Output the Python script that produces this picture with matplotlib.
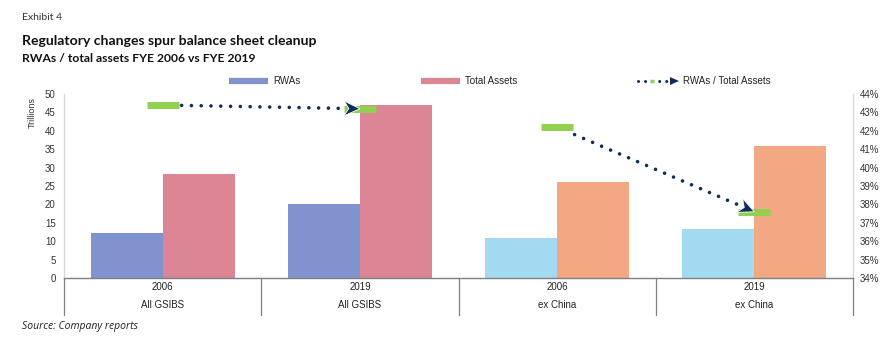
import numpy as np
import matplotlib
matplotlib.use("Agg")
import matplotlib.pyplot as plt
from matplotlib.patches import Polygon
from matplotlib.transforms import IdentityTransform

# ---- data ----
years = ["2006", "2019", "2006", "2019"]
groups = ["All GSIBS", "All GSIBS", "ex China", "ex China"]
rwas = [12.2, 20.1, 10.9, 13.3]            # trillions
total_assets = [28.3, 47.0, 26.1, 35.9]    # trillions
ratio = [43.4, 43.2, 42.2, 37.6]           # RWAs / total assets, %

rwa_colors = ["#8193CF", "#8193CF", "#A4DAF1", "#A4DAF1"]
ta_colors = ["#DC8594", "#DC8594", "#F1A883", "#F1A883"]
navy = "#0E2D5C"
green = "#92D050"
grid_gray = "#D9D9D9"
axis_gray = "#7F7F7F"
title_font = ["Lato", "DejaVu Sans"]

plt.rcParams["font.family"] = ["Liberation Sans", "DejaVu Sans"]

fig = plt.figure(figsize=(8.89, 3.37), dpi=100)
L, R = 64 / 889, 853 / 889
B, T = 1 - 278 / 337, 1 - 94 / 337
ax = fig.add_axes([L, B, R - L, T - B])
ax2 = ax.twinx()

x = np.arange(len(years))
w = 0.365
ax.bar(x - w, rwas, width=w, align="edge", color=rwa_colors, zorder=2)
ax.bar(x, total_assets, width=w, align="edge", color=ta_colors, zorder=2)

ax.set_xlim(-0.5, 3.5)
ax.set_ylim(0, 50)
ax.set_yticks(np.arange(0, 51, 5))
ax2.set_ylim(34, 44)
ax2.set_yticks(np.arange(34, 45, 1))
ax2.set_yticklabels([f"{v}%" for v in range(34, 45)])

for a in (ax, ax2):
    a.tick_params(axis="y", length=0, labelsize=7, colors="#333333")
    for s in a.spines.values():
        s.set_visible(False)
ax.tick_params(axis="y", pad=6)
ax2.tick_params(axis="y", pad=5)
ax.set_xticks([])
ax.set_ylabel("Trillions", fontsize=6.5, color="#333333")
ax.yaxis.set_label_coords(-0.034, 0.897)

# light vertical axis lines
ax.plot([0, 0], [0, 1], transform=ax.transAxes, color=grid_gray, lw=1, clip_on=False)
ax.plot([1, 1], [0, 1], transform=ax.transAxes, color=grid_gray, lw=1, clip_on=False)

# category table under the plot
ax.plot([0, 1], [0, 0], transform=ax.transAxes, color=axis_gray, lw=1, clip_on=False, zorder=5)
drop = (315 - 278) / 184
for xb in np.arange(-0.5, 4, 1.0):
    ax.plot([xb, xb], [0, -drop * 50], color=axis_gray, lw=0.9, clip_on=False, zorder=5)
for xi, yr, g in zip(x, years, groups):
    ax.text(xi, -9 / 184 * 50, yr, ha="center", va="center", fontsize=7, color="#222222")
    ax.text(xi, -27 / 184 * 50, g, ha="center", va="center", fontsize=7, color="#222222")

# ratio markers (green dashes)
half = 16 / ((R - L) * 889) * 4  # half width of a marker in data units
for xi, r in zip(x, ratio):
    ax2.plot([xi - half, xi + half], [r, r], color=green, lw=5, solid_capstyle="butt", zorder=3)


def stealth(p_tip, direction, length=16, width=15, notch=5):
    d = direction / np.linalg.norm(direction)
    n = np.array([-d[1], d[0]])
    base = p_tip - d * length
    return np.array([p_tip, base + n * width / 2, p_tip - d * (length - notch), base - n * width / 2])


# dotted arrows from each 2006 marker to the matching 2019 marker
fig.canvas.draw()
for i0, i1 in [(0, 1), (2, 3)]:
    p0 = ax2.transData.transform((x[i0], ratio[i0]))
    p1 = ax2.transData.transform((x[i1], ratio[i1]))
    d = p1 - p0
    u = d / np.linalg.norm(d)
    p_start = p0 + u * 19
    p_end = p1 - u * 13
    q0 = ax2.transData.inverted().transform(p_start)
    q1 = ax2.transData.inverted().transform(p_end)
    ax2.plot([q0[0], q1[0]], [q0[1], q1[1]], color=navy, lw=2.6,
             linestyle=(0, (0.01, 2.7)), dash_capstyle="round", zorder=4)
    fig.patches.append(Polygon(stealth(p1, d), closed=True, facecolor=navy, edgecolor="white",
                               lw=0.6, transform=IdentityTransform(), figure=fig, zorder=6))

# legend
ly = 1 - 81 / 337
fig.add_artist(plt.Line2D([229 / 889, 268 / 889], [ly, ly], color=rwa_colors[0], lw=4.5,
                          solid_capstyle="butt"))
fig.text(273 / 889, ly, "RWAs", fontsize=7, va="center", color="#222222")
fig.add_artist(plt.Line2D([421 / 889, 460 / 889], [ly, ly], color=ta_colors[0], lw=4.5,
                          solid_capstyle="butt"))
fig.text(465 / 889, ly, "Total Assets", fontsize=7, va="center", color="#222222")
fig.add_artist(plt.Line2D([638 / 889, 668 / 889], [ly, ly], color=navy, lw=2.2,
                          linestyle=(0, (0.01, 2.3)), dash_capstyle="round"))
fig.add_artist(plt.Line2D([650 / 889, 654 / 889], [ly, ly], color=green, lw=2.5,
                          solid_capstyle="butt"))
tip = np.array([679.0, 337 - 81.0])
fig.patches.append(Polygon(stealth(tip, np.array([1.0, 0.0]), length=9, width=8, notch=0),
                           closed=True, facecolor=navy, edgecolor="none",
                           transform=IdentityTransform(), figure=fig))
fig.text(683 / 889, ly, "RWAs / Total Assets", fontsize=7, va="center", color="#222222")

# titles and source
fig.text(22 / 889, 1 - 18 / 337, "Exhibit 4", fontsize=7.5, va="center", color="#333333",
         family=title_font)
fig.text(22 / 889, 1 - 41 / 337, "Regulatory changes spur balance sheet cleanup", fontsize=10.1,
         va="center", fontweight="bold", color="#111111", family=title_font)
fig.text(22 / 889, 1 - 59 / 337, "RWAs / total assets FYE 2006 vs FYE 2019", fontsize=8.75,
         va="center", fontweight="bold", color="#111111", family=title_font)
fig.text(22 / 889, 1 - 327 / 337, "Source: Company reports", fontsize=7.5, va="center",
         style="italic", color="#222222", family=["Open Sans", "DejaVu Sans"])

fig.savefig("out.png", dpi=100)
